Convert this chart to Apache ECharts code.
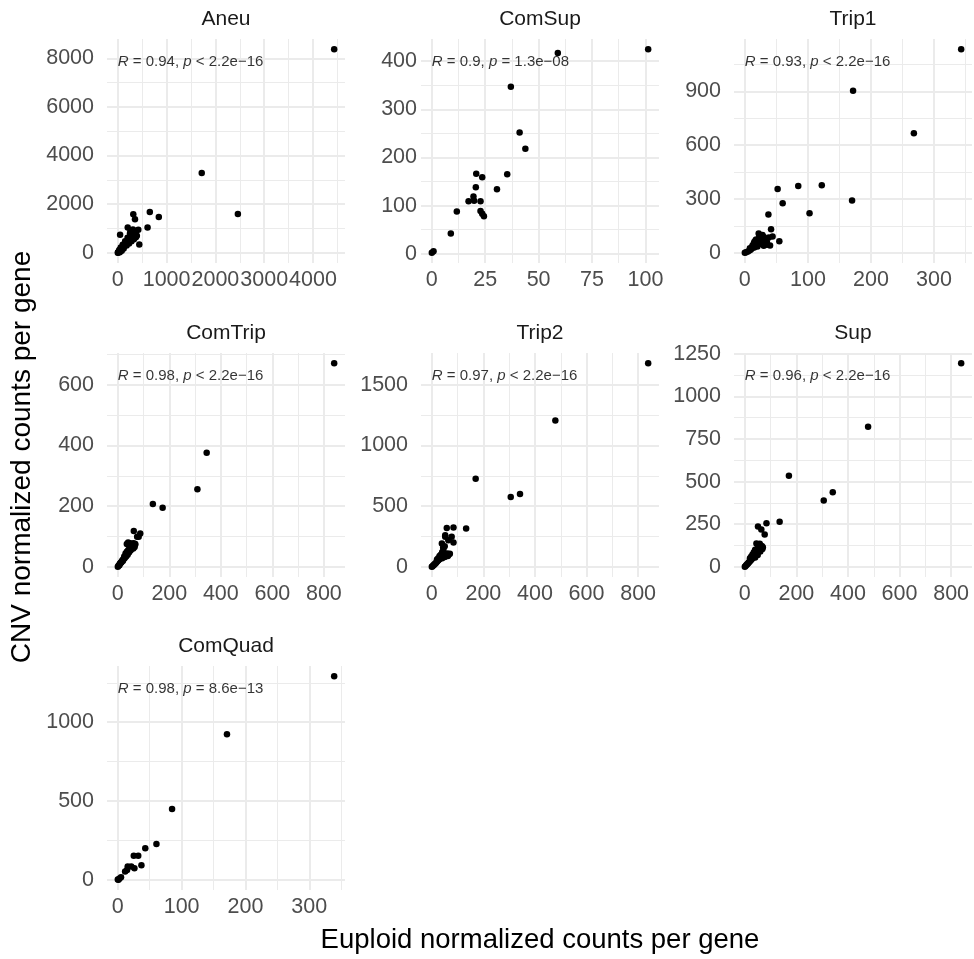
<!DOCTYPE html>
<html>
<head>
<meta charset="utf-8">
<script src="https://cdn.jsdelivr.net/npm/echarts@6/dist/echarts.min.js"></script>
<style>
  html, body { margin: 0; padding: 0; background: #ffffff; }
  #chart { width: 974px; height: 959px; }
</style>
</head>
<body>
<div id="chart"></div>
<script>
// Facet names, in reading order (3 per row)
const panelNames = ['Aneu', 'ComSup', 'Trip1', 'ComTrip', 'Trip2', 'Sup', 'ComQuad'];

// [euploid, CNV] normalized counts per gene
const aneu = [
  [4435, 8375], [1720, 3279], [2461, 1598], [840, 1476], [656, 1679], [317, 1585], [352, 1382],
  [610, 1040], [420, 947], [203, 1040], [47, 744], [440, 337],
  [0, 0], [5, 15], [12, 30], [20, 40], [28, 70], [35, 55], [42, 110], [50, 95], [58, 150], [65, 130],
  [72, 190], [80, 160], [90, 220], [98, 200], [105, 260], [115, 240], [125, 300], [132, 280], [140, 350],
  [150, 330], [160, 390], [168, 360], [175, 430], [185, 410], [195, 470], [205, 450], [215, 520],
  [225, 490], [235, 560], [245, 530], [255, 600], [265, 640], [275, 580], [285, 690], [295, 650],
  [305, 720], [315, 700], [325, 780], [335, 760], [345, 850], [360, 820], [375, 900], [390, 700],
  [300, 880], [250, 800], [200, 620], [150, 480], [100, 330], [60, 220], [30, 120], [230, 380],
  [280, 480], [330, 560], [180, 300], [120, 180], [80, 90], [40, 20], [260, 900], [310, 960], [370, 640]
];
const comSup = [
  [0, 2], [0.8, 5], [8.9, 42], [11.7, 88], [17.2, 109], [19.5, 119], [19.8, 110], [20.6, 138],
  [20.8, 166], [22.8, 109], [22.8, 89], [23.6, 159], [23.6, 83], [24.4, 78], [30.5, 134], [35.3, 165],
  [37, 347], [41.1, 252], [43.8, 218], [59, 417], [101.3, 425]
];
const trip1 = [
  [343, 1135], [171.6, 904], [268, 667], [170, 291], [122, 376], [84.7, 372], [52, 356], [60, 276],
  [102.6, 220], [37.4, 213], [41.6, 131], [54.7, 65], [44, 91],
  [0, 0], [2, 3], [5, 8], [8, 15], [10, 20], [12, 28], [15, 30], [18, 45], [20, 55], [22, 60], [25, 50],
  [28, 70], [30, 40], [23, 93], [18, 74], [22, 107], [32, 74], [35, 60], [38, 85], [40, 41], [15, 60],
  [26, 80], [12, 40], [20, 35], [28, 100], [35, 45], [8, 25], [17, 70], [30, 88], [25, 95], [14, 50], [33, 66]
];
const comTrip = [
  [840, 671], [345, 376], [309, 256], [136, 207], [174, 195], [62, 118], [87, 110], [81, 99], [75, 99],
  [0, 0], [3, 4], [6, 5], [8, 10], [10, 12], [12, 14], [14, 15], [16, 18], [18, 22], [20, 20], [22, 26],
  [24, 28], [26, 28], [28, 32], [30, 36], [32, 34], [34, 40], [36, 42], [38, 40], [40, 46], [42, 50],
  [44, 48], [46, 54], [48, 56], [50, 55], [52, 62], [54, 60], [56, 66], [58, 64], [60, 70], [62, 72],
  [64, 68], [66, 76], [68, 74], [45, 62], [50, 70], [55, 75], [40, 55], [35, 50], [60, 60], [65, 65],
  [35, 75], [40, 80], [45, 78], [50, 76], [55, 72], [60, 78], [30, 44], [25, 34]
];
const trip2 = [
  [839, 1679], [479, 1207], [170, 727], [306, 576], [342, 601], [133, 315], [58, 321], [84, 324],
  [52, 260], [77, 247], [84, 200], [39, 192], [64, 219], [52, 247],
  [0, 0], [3, 5], [6, 12], [9, 18], [12, 25], [15, 30], [18, 38], [21, 45], [24, 52], [27, 58], [30, 64],
  [33, 70], [36, 76], [39, 82], [42, 88], [45, 94], [48, 100], [52, 96], [56, 104], [60, 110], [65, 100],
  [70, 108], [35, 100], [40, 120], [45, 140], [30, 90], [50, 80], [55, 90], [25, 70], [20, 60], [40, 70],
  [62, 90], [44, 160], [50, 170]
];
const sup = [
  [839, 1195], [478, 822], [171, 535], [306, 389], [341, 437], [135, 264], [84, 256], [51, 236],
  [77, 190], [64, 219],
  [0, 0], [3, 5], [6, 10], [9, 15], [12, 20], [15, 25], [18, 30], [21, 36], [24, 40], [27, 46], [30, 50],
  [33, 56], [36, 62], [39, 68], [42, 74], [45, 80], [48, 86], [51, 92], [54, 98], [57, 104], [60, 110],
  [63, 116], [66, 122], [45, 137], [50, 130], [55, 125], [70, 115], [40, 100], [35, 85], [30, 72],
  [25, 60], [20, 50], [60, 90], [50, 70], [40, 55], [68, 105], [58, 135]
];
const comQuad = [
  [339, 1292], [171, 924], [85, 450], [60.5, 228], [43, 201], [25, 152], [32, 152], [37, 93], [26, 74],
  [21, 85], [15.5, 85], [11.4, 53], [5, 17], [1, 0], [2.6, 8.5], [14.5, 63], [0, 2]
];

// Correlation annotations (R, p)
const corR = ['0.94', '0.9', '0.93', '0.98', '0.97', '0.96', '0.98'];
const corP = ['< 2.2e\u221216', '= 1.3e\u221208', '< 2.2e\u221216', '< 2.2e\u221216', '< 2.2e\u221216', '< 2.2e\u221216', '= 8.6e\u221213'];

// Tick positions
const xMajor = [[0, 1000, 2000, 3000, 4000], [0, 25, 50, 75, 100], [0, 100, 200, 300],
  [0, 200, 400, 600, 800], [0, 200, 400, 600, 800], [0, 200, 400, 600, 800], [0, 100, 200, 300]];
const xMinor = [[500, 1500, 2500, 3500, 4500], [12.5, 37.5, 62.5, 87.5], [50, 150, 250, 350],
  [100, 300, 500, 700], [100, 300, 500, 700], [100, 300, 500, 700], [50, 150, 250, 350]];
const yMajor = [[0, 2000, 4000, 6000, 8000], [0, 100, 200, 300, 400], [0, 300, 600, 900],
  [0, 200, 400, 600], [0, 500, 1000, 1500], [0, 250, 500, 750, 1000, 1250], [0, 500, 1000]];
const yMinor = [[1000, 3000, 5000, 7000], [50, 150, 250, 350], [150, 450, 750, 1050],
  [100, 300, 500, 700], [250, 750, 1250], [125, 375, 625, 875, 1125], [250, 750, 1250]];

const xTitle = 'Euploid normalized counts per gene';
const yTitle = 'CNV normalized counts per gene';

// ---- layout ----
const FONT = '"Liberation Sans", Arial, Helvetica, sans-serif';
const panels = [aneu, comSup, trip1, comTrip, trip2, sup, comQuad];
const colLeft = [107, 421, 734];
const rowTop = [39, 353, 666];
const PW = 238, PH = 224;
const yLabelGap = [13, 4, 13, 13, 13, 13, 13];
const GRID_COLOR = '#EBEBEB';
const TICK_FONT = 21.5;
const NOTE_FONT = 15;

function paddedRange(vals) {
  const lo = Math.min(...vals), hi = Math.max(...vals);
  const pad = (hi - lo) * 0.05;
  return [lo - pad, hi + pad];
}
const plain = v => String(v);

const grids = [], xAxes = [], yAxes = [], series = [], graphics = [];

panels.forEach((pts, i) => {
  const row = Math.floor(i / 3), col = i % 3;
  const left = colLeft[col], top = rowTop[row];
  grids.push({ left: left, top: top, width: PW, height: PH, containLabel: false });

  const xr = paddedRange(pts.map(p => p[0]));
  const yr = paddedRange(pts.map(p => p[1]));

  const baseAxis = (range) => ({
    type: 'value', gridIndex: i, min: range[0], max: range[1],
    axisLine: { show: false }, scale: true
  });
  const labelStyle = (values, margin) => ({
    show: true, customValues: values, formatter: plain, color: '#4D4D4D',
    fontSize: TICK_FONT, fontFamily: FONT, margin: margin,
    showMinLabel: true, showMaxLabel: true, hideOverlap: false
  });

  // major axis: labels + thick grid lines
  xAxes.push(Object.assign(baseAxis(xr), {
    axisTick: { show: false, customValues: xMajor[i] },
    axisLabel: labelStyle(xMajor[i], 6),
    splitLine: { show: true, lineStyle: { color: GRID_COLOR, width: 2 } }
  }));
  // minor axis: thin grid lines only
  xAxes.push(Object.assign(baseAxis(xr), {
    axisTick: { show: false, customValues: xMinor[i] },
    axisLabel: { show: false, customValues: xMinor[i] },
    splitLine: { show: true, lineStyle: { color: GRID_COLOR, width: 1 } }
  }));
  yAxes.push(Object.assign(baseAxis(yr), {
    axisTick: { show: false, customValues: yMajor[i] },
    axisLabel: labelStyle(yMajor[i], yLabelGap[i]),
    splitLine: { show: true, lineStyle: { color: GRID_COLOR, width: 2 } }
  }));
  yAxes.push(Object.assign(baseAxis(yr), {
    axisTick: { show: false, customValues: yMinor[i] },
    axisLabel: { show: false, customValues: yMinor[i] },
    splitLine: { show: true, lineStyle: { color: GRID_COLOR, width: 1 } }
  }));

  series.push({
    type: 'scatter', name: panelNames[i],
    xAxisIndex: 2 * i, yAxisIndex: 2 * i,
    data: pts, symbolSize: 6.5, silent: true,
    itemStyle: { color: '#000000', opacity: 1 }
  });

  // correlation label anchored at min x, top of panel
  series.push({
    type: 'scatter', xAxisIndex: 2 * i, yAxisIndex: 2 * i, silent: true,
    data: [[Math.min(...pts.map(p => p[0])), yr[1]]],
    symbolSize: 0,
    label: {
      show: true, position: 'right', distance: 0, offset: [0, 23],
      formatter: '{i|R} = ' + corR[i] + ', {i|p} ' + corP[i],
      color: '#000', fontSize: NOTE_FONT, fontFamily: FONT,
      rich: { i: { fontStyle: 'italic', fontSize: NOTE_FONT, fontFamily: FONT, color: '#000' } }
    }
  });

  // facet strip label
  graphics.push({
    type: 'text', silent: true,
    style: { text: panelNames[i], x: left + PW / 2, y: top - 19.5, textAlign: 'center', textVerticalAlign: 'middle',
      font: '21px ' + FONT, fill: '#1A1A1A' }
  });
});

// axis titles
graphics.push({
  type: 'text', silent: true,
  style: { text: xTitle, x: 540, y: 940, textAlign: 'center', textVerticalAlign: 'middle', font: '27.5px ' + FONT, fill: '#000' }
});
graphics.push({
  type: 'text', silent: true, x: 22, y: 457, rotation: Math.PI / 2,
  style: { text: yTitle, x: 0, y: 0, textAlign: 'center', textVerticalAlign: 'middle', font: '28px ' + FONT, fill: '#000' }
});

const chart = echarts.init(document.getElementById('chart'), null, { renderer: 'canvas' });
chart.setOption({
  animation: false,
  backgroundColor: '#ffffff',
  grid: grids,
  xAxis: xAxes,
  yAxis: yAxes,
  series: series,
  graphic: graphics
});
</script>
</body>
</html>
